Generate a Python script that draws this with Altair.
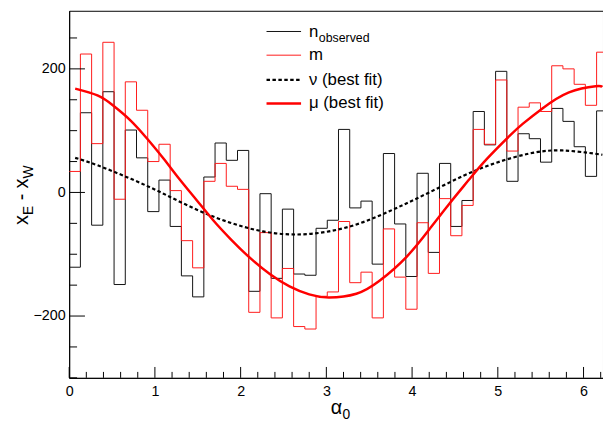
import altair as alt
import pandas as pd
import numpy as np

# ---------------- data ----------------
N_BINS = 48
n_observed = [-121, 129, -53, 163, -149, 101, 56, -31, 20, -55, -135, -169,
              25, 80, 52, 68, -160, -2, -139, -27, -132, -134, -58, -45,
              102, -25, -14, -116, 63, -51, -136, 31, -97, 47, -55, -13,
              131, 77, 196, 18, 95, 87, 49, 136, 115, 74, 26, 132]
m_values = [34, 224, 79, 243, -11, 179, 133, 50, 78, 3, -78, -122,
            18, 47, 10, 5, -194, -65, -203, -123, -217, -221, -168, -161,
            -47, -146, -129, -203, -59, -137, -189, -49, -131, -10, -70, -21,
            102, 78, 182, 67, 138, 145, 131, 205, 200, 175, 141, 227]

mu_alpha = [0.07, 0.33, 0.52, 0.72, 0.91, 1.10, 1.29, 1.49, 1.68, 1.88, 2.11, 2.34,
            2.57, 2.80, 3.03, 3.35, 3.62, 3.93, 4.20, 4.43, 4.66, 4.87, 5.14, 5.29,
            5.52, 5.83, 6.14, 6.22]
mu_vals = [168, 157, 140, 116, 87, 55, 21, -13, -45, -75, -106, -132,
           -152, -165, -170, -164, -143, -105, -60, -19, 20, 54, 92, 111,
           136, 162, 172, 171]

nu_alpha = [0.07, 0.33, 0.72, 1.10, 1.49, 1.88, 2.26, 2.64, 3.03, 3.43, 3.82, 4.20,
            4.60, 4.98, 5.37, 5.75, 6.22]
nu_vals = [56, 44, 22, -2, -28, -49, -63, -68, -63, -48, -25, 0,
           27, 48, 63, 68, 61]

x_major_ticks = [0, 1, 2, 3, 4, 5, 6]
x_minor_ticks = [round(0.2 * k, 1) for k in range(32) if k % 5 != 0]
y_major_ticks = [-200, 0, 200]
y_minor_ticks = [-300, -250, -150, -100, -50, 50, 100, 150, 250]

# ---------------- layout ----------------
X_MAX = 6.227
Y_MIN, Y_MAX = -300, 294
W, H = 541, 372
FONT = "Liberation Sans"

edges = [2 * np.pi * k / N_BINS for k in range(N_BINS + 1)]
n_df = pd.DataFrame({"alpha": edges, "value": n_observed + [n_observed[-1]]})
m_df = pd.DataFrame({"alpha": edges, "value": m_values + [m_values[-1]]})
mu_df = pd.DataFrame({"alpha": mu_alpha, "value": mu_vals})
nu_df = pd.DataFrame({"alpha": nu_alpha, "value": nu_vals})
one = pd.DataFrame({"a": [0]})

xs = alt.Scale(domain=[0, X_MAX], nice=False, zero=False)
ys = alt.Scale(domain=[Y_MIN, Y_MAX], nice=False, zero=False)

x_axis = alt.Axis(values=x_major_ticks, title=None, grid=False, ticks=False, tickSize=0,
                  labelPadding=7, labelFontSize=14.5, labelFont=FONT, labelColor="black",
                  domainColor="black", labelFlush=False, labelOverlap=False, format="d")
y_axis = alt.Axis(values=y_major_ticks, title=None, grid=False, ticks=False, tickSize=0,
                  labelPadding=4, labelFontSize=14.5, labelFont=FONT, labelColor="black",
                  domainColor="black", labelFlush=False, labelOverlap=False, format="d")

X = alt.X("alpha:Q", scale=xs, axis=x_axis)
Y = alt.Y("value:Q", scale=ys, axis=y_axis)

hist_n = alt.Chart(n_df).mark_line(interpolate="step-after", color="#111111", strokeWidth=1, clip=True).encode(x=X, y=Y)
hist_m = alt.Chart(m_df).mark_line(interpolate="step-after", color="#ff1a1a", strokeWidth=1, clip=True).encode(x=X, y=Y)
nu_line = alt.Chart(nu_df).mark_line(interpolate="natural", color="black", strokeWidth=2.2,
                                     strokeDash=[3.5, 2.5], clip=True).encode(x=X, y=Y)
mu_line = alt.Chart(mu_df).mark_line(interpolate="natural", color="#ff0000", strokeWidth=2.5, clip=True).encode(x=X, y=Y)

# inward ticks
ytick_major = alt.Chart(pd.DataFrame({"value": y_major_ticks})).mark_rule(color="black", strokeWidth=1).encode(
    y=Y, x=alt.value(0), x2=alt.value(16))
ytick_minor = alt.Chart(pd.DataFrame({"value": y_minor_ticks})).mark_rule(color="black", strokeWidth=1).encode(
    y=Y, x=alt.value(0), x2=alt.value(8))
xtick_major = alt.Chart(pd.DataFrame({"alpha": x_major_ticks})).mark_rule(color="black", strokeWidth=1).encode(
    x=X, y=alt.value(H), y2=alt.value(H - 11))
xtick_minor = alt.Chart(pd.DataFrame({"alpha": x_minor_ticks})).mark_rule(color="black", strokeWidth=1).encode(
    x=X, y=alt.value(H), y2=alt.value(H - 6))


def txt(s, x, y, size, angle=0, align="left", baseline="alphabetic"):
    return alt.Chart(one).mark_text(text=s, fontSize=size, font=FONT, align=align,
                                    baseline=baseline, angle=angle, color="black").encode(
        x=alt.value(x), y=alt.value(y))


def leg_line(y, color, width, dash=None):
    kw = dict(color=color, strokeWidth=width)
    if dash:
        kw["strokeDash"] = dash
    return alt.Chart(one).mark_rule(**kw).encode(x=alt.value(200), x2=alt.value(235), y=alt.value(y))


legend = [
    leg_line(21, "#111111", 1), txt("n", 243, 27, 17), txt("observed", 253, 32, 12.5),
    leg_line(45, "#ff1a1a", 1), txt("m", 243, 50, 17),
    leg_line(70, "black", 2.2, [3.5, 2.5]), txt("\u03bd (best fit)", 243, 75, 17),
    leg_line(94, "#ff0000", 2.5), txt("\u03bc (best fit)", 243, 99, 17),
]

# axis titles with subscripts
titles = [
    txt("\u03b1", 265, 409, 20), txt("0", 277, 414, 14),
    txt("x", -42, 217, 20, angle=270), txt("E", -37, 207, 14, angle=270),
    txt("-", -42, 192, 20, angle=270),
    txt("x", -42, 180, 20, angle=270), txt("W", -37, 170, 14, angle=270),
]

chart = alt.layer(
    hist_n, hist_m, nu_line, mu_line,
    ytick_major, ytick_minor, xtick_major, xtick_minor,
    *legend, *titles
).properties(
    width=W, height=H,
    autosize=alt.AutoSizeParams(type="none"),
    padding={"left": 62, "top": 0, "right": 0, "bottom": 46},
).configure_view(stroke="black", strokeWidth=1)

chart.save("out.html", embed_options={"renderer": "svg", "actions": False})
